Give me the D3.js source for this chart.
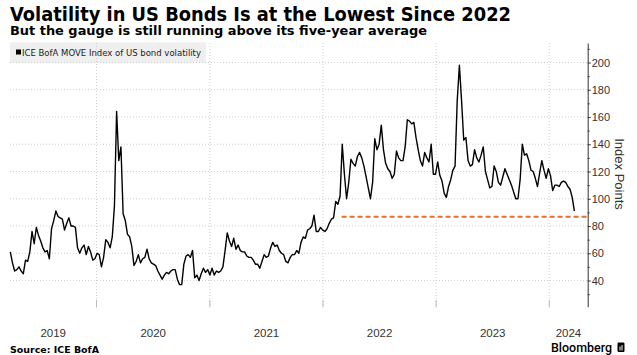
<!DOCTYPE html>
<html><head><meta charset="utf-8">
<script src="https://cdn.jsdelivr.net/npm/d3@7"></script>
<style>body{margin:0;background:#fff} svg{display:block}</style>
</head><body><svg id="c" width="637" height="355"></svg>
<script>
// ---- data ----
const titleText = "Volatility in US Bonds Is at the Lowest Since 2022";
const subtitleText = "But the gauge is still running above its five-year average";
const legendText = "ICE BofA MOVE Index of US bond volatility";
const sourceText = "Source: ICE BofA";
const yAxisTitle = "Index Points";
const startDate = "2019-03-29"; // first weekly observation
const moveValues = [61,53,47,48,50,47,45,55,54,61,
 76,67,79,73,69,64,61,62,56,78,
 84,91,87,86,85,77,82,86,80,80,
 79,64,60,64,66,59,65,61,55,56,
 60,59,50,57,70,68,64,72,95,164,
 128,138,89,84,74,72,65,51,54,59,
 53,56,57,63,56,53,52,51,47,44,
 41,44,46,45,47,48,48,41,37,37,
 52,58,59,57,62,42,44,40,45,49,
 46,48,44,49,44,47,46,47,50,62,
 75,69,65,71,63,66,62,61,61,58,
 57,57,55,52,52,49,54,59,57,58,
 64,68,65,66,62,60,59,54,53,57,
 59,59,62,60,68,72,71,77,78,80,
 88,76,76,79,77,76,78,82,85,86,
 98,96,102,140,118,100,112,129,126,124,
 131,134,130,124,116,108,100,112,144,136,
 140,154,136,126,122,120,115,118,135,130,
 128,128,138,158,157,155,156,145,136,128,
 124,134,130,127,140,118,118,127,117,113,
 104,101,109,114,121,124,172,198,172,143,
 145,128,124,125,136,130,127,132,138,120,
 114,108,109,124,120,112,110,116,122,118,
 114,110,105,100,100,114,140,132,133,128,
 121,120,115,109,119,128,121,115,122,117,
 106,110,110,109,112,113,112,109,107,101,
 91];
const fiveYearAvg = 86.8;
const avgStart = "2022-03-02";
const xDomain = ["2019-03-28", "2024-05-04"];
const yDomain = [20.8, 214.3];
const yTicks = [40, 60, 80, 100, 120, 140, 160, 180, 200];
const yMinorTicks = [30, 50, 70, 90, 110, 130, 150, 170, 190, 210];
const yearLabels = ["2019", "2020", "2021", "2022", "2023", "2024"];

// ---- chart ----
(function () {
const parse = d3.timeParse("%Y-%m-%d");
const t0 = parse(startDate);
const series = moveValues.map((v, i) => ({date: d3.timeDay.offset(t0, 7 * i), value: v}));

const svg = d3.select("#c");
const pL = 10, pR = 587.7, pT = 43, pB = 306.7;
const x = d3.scaleTime().domain(xDomain.map(parse)).range([pL, pR]);
const y = d3.scaleLinear().domain(yDomain).range([pB, pT]);

// legend box
svg.append("rect").attr("x", 10).attr("y", 42.3).attr("width", 196).attr("height", 20.4).attr("fill", "#efefef");

// gridlines
const yearStarts = yearLabels.map(s => parse(s + "-01-01")).filter(d => d > x.domain()[0]);
svg.append("g").selectAll("line").data(yTicks).join("line")
  .attr("x1", pL).attr("x2", pR).attr("y1", d => y(d)).attr("y2", d => y(d))
  .attr("stroke", "#cfcfcf").attr("stroke-width", 1).attr("stroke-dasharray", "1,2");
svg.append("g").selectAll("line").data(yearStarts).join("line")
  .attr("x1", d => x(d)).attr("x2", d => x(d)).attr("y1", pT).attr("y2", pB)
  .attr("stroke", "#cfcfcf").attr("stroke-width", 1).attr("stroke-dasharray", "1,2");
svg.append("g").selectAll("line").data(yearStarts).join("line")
  .attr("x1", d => x(d)).attr("x2", d => x(d)).attr("y1", 300).attr("y2", 307.5)
  .attr("stroke", "#bbb").attr("stroke-width", 1);

// legend content
svg.append("rect").attr("x", 16).attr("y", 49.5).attr("width", 5).attr("height", 5).attr("fill", "#000");
svg.append("text").attr("x", 22).attr("y", 55.5).text(legendText)
  .attr("font-family", "'DejaVu Sans Condensed', 'DejaVu Sans', sans-serif").attr("font-size", 9)
  .attr("fill", "#222").attr("textLength", 179).attr("lengthAdjust", "spacingAndGlyphs");

// average line
svg.append("line")
  .attr("x1", x(parse(avgStart))).attr("x2", pR)
  .attr("y1", y(fiveYearAvg)).attr("y2", y(fiveYearAvg))
  .attr("stroke", "#e8702a").attr("stroke-width", 2).attr("stroke-dasharray", "5,3");

// series line
const line = d3.line().x(d => x(d.date)).y(d => y(d.value));
svg.append("path").datum(series).attr("d", line)
  .attr("fill", "none").attr("stroke", "#000").attr("stroke-width", 1.4).attr("stroke-linejoin", "round");

// y axis
const axis = svg.append("g").attr("transform", `translate(${pR},0)`)
  .call(d3.axisRight(y).tickValues(yTicks).tickSize(3).tickPadding(1).tickSizeOuter(0));
axis.select(".domain").attr("stroke", "#333");
axis.selectAll(".tick line").attr("stroke", "#333");
axis.selectAll("text").attr("font-family", "'Liberation Sans', Arial, sans-serif").attr("font-size", 11).attr("fill", "#333");
const minor = svg.append("g").attr("transform", `translate(${pR},0)`)
  .call(d3.axisRight(y).tickValues(yMinorTicks).tickSize(2).tickFormat(""));
minor.select(".domain").remove();
minor.selectAll(".tick line").attr("stroke", "#333");

svg.append("text").attr("transform", "translate(615,174) rotate(90)")
  .attr("text-anchor", "middle").text(yAxisTitle)
  .attr("font-family", "'Liberation Sans', Arial, sans-serif").attr("font-size", 13).attr("fill", "#333");

// year labels centered in visible portion of each year
const [d0, d1] = x.domain();
svg.append("g").selectAll("text").data(yearLabels).join("text")
  .attr("x", s => {
    const a = new Date(Math.max(+parse(s + "-01-01"), +d0));
    const b = new Date(Math.min(+parse((+s + 1) + "-01-01"), +d1));
    return (x(a) + x(b)) / 2;
  })
  .attr("y", 337).attr("text-anchor", "middle").text(s => s)
  .attr("font-family", "'Liberation Sans', Arial, sans-serif").attr("font-size", 11.5).attr("fill", "#333");

// titles
svg.append("text").attr("x", 10).attr("y", 20.5).text(titleText)
  .attr("font-family", "'DejaVu Sans', sans-serif").attr("font-weight", "bold").attr("font-size", 19)
  .attr("fill", "#000").attr("textLength", 501).attr("lengthAdjust", "spacingAndGlyphs");
svg.append("text").attr("x", 10).attr("y", 34.5).text(subtitleText)
  .attr("font-family", "'DejaVu Sans', sans-serif").attr("font-weight", "bold").attr("font-size", 12)
  .attr("fill", "#000").attr("textLength", 417).attr("lengthAdjust", "spacingAndGlyphs");

// footer
svg.append("text").attr("x", 10).attr("y", 353).text(sourceText)
  .attr("font-family", "'DejaVu Sans', sans-serif").attr("font-weight", "bold").attr("font-size", 9.5)
  .attr("fill", "#000").attr("textLength", 89).attr("lengthAdjust", "spacingAndGlyphs");
svg.append("text").attr("x", 551).attr("y", 351.5).text("Bloomberg")
  .attr("font-family", "Roboto, 'Liberation Sans', sans-serif").attr("font-weight", 500).attr("font-size", 12)
  .attr("fill", "#000").attr("textLength", 61).attr("lengthAdjust", "spacingAndGlyphs");
const logo = svg.append("g").attr("transform", "translate(617.5,342.5)");
logo.append("rect").attr("width", 7).attr("height", 9.5).attr("rx", 1.2).attr("fill", "#000");
logo.append("rect").attr("x", 2).attr("y", 4).attr("width", 1).attr("height", 4).attr("fill", "#fff");
logo.append("rect").attr("x", 4).attr("y", 2.5).attr("width", 1).attr("height", 5.5).attr("fill", "#fff");
})();
</script></body></html>
